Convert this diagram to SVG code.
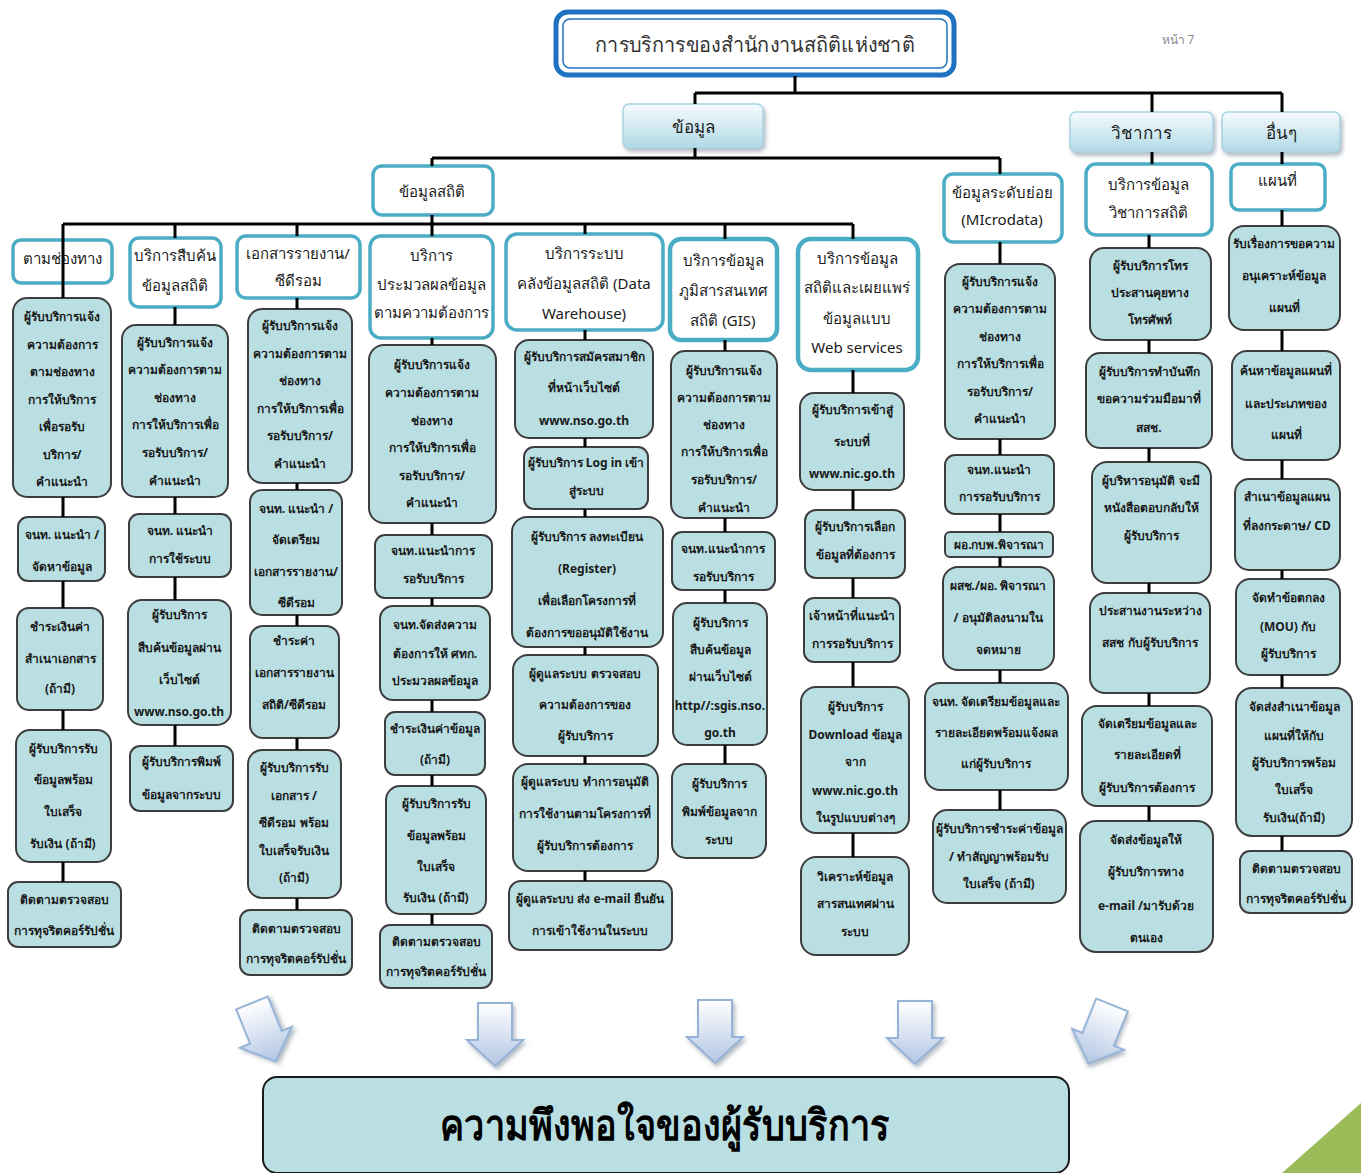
<svg xmlns="http://www.w3.org/2000/svg" width="1361" height="1173" viewBox="0 0 1361 1173">
<defs>
<linearGradient id="catg" x1="0" y1="0" x2="0" y2="1"><stop offset="0" stop-color="#f6fbfd"/><stop offset="1" stop-color="#b0d9e6"/></linearGradient>
<linearGradient id="arrg" x1="0" y1="0" x2="0" y2="1"><stop offset="0" stop-color="#ffffff"/><stop offset="1" stop-color="#b3c6e4"/></linearGradient>
<filter id="sh" x="-20%" y="-20%" width="140%" height="150%"><feDropShadow dx="2" dy="3" stdDeviation="2" flood-color="#7f8c99" flood-opacity="0.6"/></filter>
<g id="darr"><path d="M-17 0 H17 V37 H28 L0 63 L-28 37 H-17 Z"/></g>
</defs>
<style>
text{font-family:"Noto Sans","DejaVu Sans",sans-serif;text-anchor:middle;fill:#1a1a1a}
.title{font-size:21px;fill:#333}
.cat{font-size:17px;fill:#1a1a1a}
.t2{font-size:15px}
.tp{font-size:12px;font-weight:bold}
.l2{fill:#ffffff;stroke:#4bacc6;stroke-width:3.5}
.p{fill:#b9dfe3;stroke:#3d3d3d;stroke-width:2}
.c{fill:url(#catg);stroke:#a9d4e2;stroke-width:1.5;filter:url(#sh)}
.con path{stroke:#000;stroke-width:3;fill:none}
.arr use{fill:url(#arrg);stroke:#95b3d7;stroke-width:2;filter:url(#sh)}
</style>
<rect width="1361" height="1173" fill="#ffffff"/>

<g id="title">
<rect x="556" y="12" width="398" height="63" rx="12" fill="#ffffff" stroke="#1f72c0" stroke-width="5"/>
<rect x="563" y="19" width="384" height="49" rx="7" fill="none" stroke="#1f72c0" stroke-width="1.5"/>
<text class="title" x="755" y="52" textLength="320" lengthAdjust="spacingAndGlyphs">การบริการของสำนักงานสถิติแห่งชาติ</text>
</g>
<text x="1178" y="44" style="font-size:12px;fill:#8a8a8a">หน้า 7</text>

<g id="cat-data"><rect class="c" x="623" y="104" width="140" height="44" rx="6"/><text class="cat" x="693" y="133">ข้อมูล</text></g>
<g id="cat-academic"><rect class="c" x="1070" y="112" width="143" height="40" rx="6"/><text class="cat" x="1141" y="139">วิชาการ</text></g>
<g id="cat-other"><rect class="c" x="1222" y="112" width="118" height="40" rx="6"/><text class="cat" x="1281" y="139">อื่นๆ</text></g>

<g id="n-stat"><rect class="l2" x="373" y="166" width="120" height="49" rx="9"/><text class="t2" x="432" y="197">ข้อมูลสถิติ</text></g>
<g id="n-micro"><rect class="l2" x="944" y="174" width="118" height="68" rx="9"/><text class="t2" x="1002" y="198">ข้อมูลระดับย่อย</text><text class="t2" x="1002" y="225">(MIcrodata)</text></g>
<g id="n-acad"><rect class="l2" x="1086" y="164" width="126" height="71" rx="10"/><text class="t2" x="1148" y="190">บริการข้อมูล</text><text class="t2" x="1148" y="218">วิชาการสถิติ</text></g>
<g id="n-map"><rect class="l2" x="1231" y="164" width="94" height="46" rx="8"/><text class="t2" x="1277" y="186">แผนที่</text></g>

<g id="n-channel"><rect class="l2" x="13" y="240" width="99" height="43" rx="8"/><text class="t2" x="62" y="264">ตามช่องทาง</text></g>
<g id="n-search"><rect class="l2" x="130" y="238" width="91" height="69" rx="9"/><text class="t2" x="175" y="261">บริการสืบค้น</text><text class="t2" x="175" y="291">ข้อมูลสถิติ</text></g>
<g id="n-docs"><rect class="l2" x="237" y="236" width="123" height="62" rx="9"/><text class="t2" x="298" y="259">เอกสารรายงาน/</text><text class="t2" x="298" y="286">ซีดีรอม</text></g>
<g id="n-proc"><rect class="l2" x="370" y="236" width="123" height="102" rx="11"/><text class="t2" x="431" y="261">บริการ</text><text class="t2" x="431" y="290">ประมวลผลข้อมูล</text><text class="t2" x="431" y="318">ตามความต้องการ</text></g>
<g id="n-dw"><rect class="l2" x="506" y="234" width="157" height="96" rx="11"/><text class="t2" x="584" y="259">บริการระบบ</text><text class="t2" x="584" y="289">คลังข้อมูลสถิติ   (Data</text><text class="t2" x="584" y="319">Warehouse)</text></g>
<g id="n-gis"><rect class="l2" x="670" y="239" width="107" height="101" rx="11" style="stroke-width:4.5"/><text class="t2" x="723" y="266">บริการข้อมูล</text><text class="t2" x="723" y="296">ภูมิสารสนเทศ</text><text class="t2" x="723" y="326">สถิติ (GIS)</text></g>
<g id="n-web"><rect class="l2" x="798" y="239" width="120" height="131" rx="13" style="stroke-width:4.5"/><text class="t2" x="857" y="264">บริการข้อมูล</text><text class="t2" x="857" y="293">สถิติและเผยแพร่</text><text class="t2" x="857" y="324">ข้อมูลแบบ</text><text class="t2" x="857" y="353">Web services</text></g>

<!-- column 1 -->
<g id="c1a"><rect class="p" x="13" y="298" width="98" height="199" rx="14"/><text class="tp" x="62" y="321">ผู้รับบริการแจ้ง</text><text class="tp" x="62" y="349">ความต้องการ</text><text class="tp" x="62" y="376">ตามช่องทาง</text><text class="tp" x="62" y="404">การให้บริการ</text><text class="tp" x="62" y="431">เพื่อรอรับ</text><text class="tp" x="62" y="459">บริการ/</text><text class="tp" x="62" y="486">คำแนะนำ</text></g>
<g id="c1b"><rect class="p" x="18" y="517" width="87" height="64" rx="10"/><text class="tp" x="62" y="539">จนท. แนะนำ /</text><text class="tp" x="62" y="571">จัดหาข้อมูล</text></g>
<g id="c1c"><rect class="p" x="17" y="608" width="86" height="102" rx="12"/><text class="tp" x="60" y="631">ชำระเงินค่า</text><text class="tp" x="60" y="663">สำเนาเอกสาร</text><text class="tp" x="60" y="693">(ถ้ามี)</text></g>
<g id="c1d"><rect class="p" x="16" y="730" width="95" height="132" rx="14"/><text class="tp" x="63" y="753">ผู้รับบริการรับ</text><text class="tp" x="63" y="784">ข้อมูลพร้อม</text><text class="tp" x="63" y="816">ใบเสร็จ</text><text class="tp" x="63" y="848">รับเงิน (ถ้ามี)</text></g>
<g id="c1e"><rect class="p" x="8" y="882" width="113" height="65" rx="10"/><text class="tp" x="64" y="904">ติดตามตรวจสอบ</text><text class="tp" x="64" y="935">การทุจริตคอร์รัปชั่น</text></g>

<!-- column 2 -->
<g id="c2a"><rect class="p" x="122" y="325" width="106" height="172" rx="14"/><text class="tp" x="175" y="347">ผู้รับบริการแจ้ง</text><text class="tp" x="175" y="374">ความต้องการตาม</text><text class="tp" x="175" y="402">ช่องทาง</text><text class="tp" x="175" y="429">การให้บริการเพื่อ</text><text class="tp" x="175" y="457">รอรับบริการ/</text><text class="tp" x="175" y="485">คำแนะนำ</text></g>
<g id="c2b"><rect class="p" x="129" y="514" width="102" height="63" rx="10"/><text class="tp" x="180" y="535">จนท. แนะนำ</text><text class="tp" x="180" y="563">การใช้ระบบ</text></g>
<g id="c2c"><rect class="p" x="128" y="600" width="103" height="125" rx="14"/><text class="tp" x="179" y="619">ผู้รับบริการ</text><text class="tp" x="179" y="652">สืบค้นข้อมูลผ่าน</text><text class="tp" x="179" y="684">เว็บไซต์</text><text class="tp" x="179" y="716">www.nso.go.th</text></g>
<g id="c2d"><rect class="p" x="130" y="746" width="103" height="65" rx="10"/><text class="tp" x="181" y="766">ผู้รับบริการพิมพ์</text><text class="tp" x="181" y="799">ข้อมูลจากระบบ</text></g>

<!-- column 3 -->
<g id="c3a"><rect class="p" x="248" y="309" width="104" height="174" rx="14"/><text class="tp" x="300" y="330">ผู้รับบริการแจ้ง</text><text class="tp" x="300" y="358">ความต้องการตาม</text><text class="tp" x="300" y="385">ช่องทาง</text><text class="tp" x="300" y="413">การให้บริการเพื่อ</text><text class="tp" x="300" y="440">รอรับบริการ/</text><text class="tp" x="300" y="468">คำแนะนำ</text></g>
<g id="c3b"><rect class="p" x="250" y="490" width="92" height="125" rx="12"/><text class="tp" x="296" y="513">จนท. แนะนำ /</text><text class="tp" x="296" y="544">จัดเตรียม</text><text class="tp" x="296" y="576">เอกสารรายงาน/</text><text class="tp" x="296" y="607">ซีดีรอม</text></g>
<g id="c3c"><rect class="p" x="250" y="626" width="89" height="112" rx="13"/><text class="tp" x="294" y="645">ชำระค่า</text><text class="tp" x="294" y="677">เอกสารรายงาน</text><text class="tp" x="294" y="709">สถิติ/ซีดีรอม</text></g>
<g id="c3d"><rect class="p" x="248" y="750" width="93" height="148" rx="14"/><text class="tp" x="294" y="772">ผู้รับบริการรับ</text><text class="tp" x="294" y="800">เอกสาร /</text><text class="tp" x="294" y="827">ซีดีรอม พร้อม</text><text class="tp" x="294" y="855">ใบเสร็จรับเงิน</text><text class="tp" x="294" y="882">(ถ้ามี)</text></g>
<g id="c3e"><rect class="p" x="240" y="910" width="112" height="65" rx="10"/><text class="tp" x="296" y="933">ติดตามตรวจสอบ</text><text class="tp" x="296" y="963">การทุจริตคอร์รัปชั่น</text></g>

<!-- column 4 -->
<g id="c4a"><rect class="p" x="369" y="345" width="127" height="178" rx="15"/><text class="tp" x="432" y="369">ผู้รับบริการแจ้ง</text><text class="tp" x="432" y="397">ความต้องการตาม</text><text class="tp" x="432" y="425">ช่องทาง</text><text class="tp" x="432" y="452">การให้บริการเพื่อ</text><text class="tp" x="432" y="480">รอรับบริการ/</text><text class="tp" x="432" y="507">คำแนะนำ</text></g>
<g id="c4b"><rect class="p" x="375" y="535" width="117" height="63" rx="10"/><text class="tp" x="433" y="555">จนท.แนะนำการ</text><text class="tp" x="433" y="583">รอรับบริการ</text></g>
<g id="c4c"><rect class="p" x="380" y="606" width="110" height="94" rx="13"/><text class="tp" x="435" y="629">จนท.จัดส่งความ</text><text class="tp" x="435" y="658">ต้องการให้ ศทก.</text><text class="tp" x="435" y="685">ประมวลผลข้อมูล</text></g>
<g id="c4d"><rect class="p" x="385" y="712" width="100" height="63" rx="10"/><text class="tp" x="435" y="733">ชำระเงินค่าข้อมูล</text><text class="tp" x="435" y="764">(ถ้ามี)</text></g>
<g id="c4e"><rect class="p" x="386" y="786" width="100" height="128" rx="14"/><text class="tp" x="436" y="808">ผู้รับบริการรับ</text><text class="tp" x="436" y="840">ข้อมูลพร้อม</text><text class="tp" x="436" y="871">ใบเสร็จ</text><text class="tp" x="436" y="902">รับเงิน (ถ้ามี)</text></g>
<g id="c4f"><rect class="p" x="380" y="925" width="112" height="63" rx="10"/><text class="tp" x="436" y="946">ติดตามตรวจสอบ</text><text class="tp" x="436" y="976">การทุจริตคอร์รัปชั่น</text></g>

<!-- column 5 -->
<g id="c5a"><rect class="p" x="515" y="340" width="138" height="98" rx="14"/><text class="tp" x="584" y="361">ผู้รับบริการสมัครสมาชิก</text><text class="tp" x="584" y="392">ที่หน้าเว็บไซต์</text><text class="tp" x="584" y="425">www.nso.go.th</text></g>
<g id="c5b"><rect class="p" x="524" y="447" width="124" height="62" rx="10"/><text class="tp" x="586" y="467">ผู้รับบริการ Log in เข้า</text><text class="tp" x="586" y="495">สู่ระบบ</text></g>
<g id="c5c"><rect class="p" x="512" y="517" width="151" height="130" rx="15"/><text class="tp" x="587" y="541">ผู้รับบริการ ลงทะเบียน</text><text class="tp" x="587" y="573">(Register)</text><text class="tp" x="587" y="605">เพื่อเลือกโครงการที่</text><text class="tp" x="587" y="637">ต้องการขออนุมัติใช้งาน</text></g>
<g id="c5d"><rect class="p" x="513" y="655" width="145" height="101" rx="15"/><text class="tp" x="585" y="678">ผู้ดูแลระบบ ตรวจสอบ</text><text class="tp" x="585" y="709">ความต้องการของ</text><text class="tp" x="585" y="740">ผู้รับบริการ</text></g>
<g id="c5e"><rect class="p" x="513" y="764" width="145" height="107" rx="15"/><text class="tp" x="585" y="786">ผู้ดูแลระบบ ทำการอนุมัติ</text><text class="tp" x="585" y="818">การใช้งานตามโครงการที่</text><text class="tp" x="585" y="850">ผู้รับบริการต้องการ</text></g>
<g id="c5f"><rect class="p" x="509" y="881" width="163" height="69" rx="12"/><text class="tp" x="590" y="903">ผู้ดูแลระบบ ส่ง e-mail ยืนยัน</text><text class="tp" x="590" y="935">การเข้าใช้งานในระบบ</text></g>

<!-- column 6 -->
<g id="c6a"><rect class="p" x="671" y="351" width="106" height="167" rx="14"/><text class="tp" x="724" y="375">ผู้รับบริการแจ้ง</text><text class="tp" x="724" y="402">ความต้องการตาม</text><text class="tp" x="724" y="429">ช่องทาง</text><text class="tp" x="724" y="456">การให้บริการเพื่อ</text><text class="tp" x="724" y="484">รอรับบริการ/</text><text class="tp" x="724" y="512">คำแนะนำ</text></g>
<g id="c6b"><rect class="p" x="672" y="532" width="103" height="58" rx="10"/><text class="tp" x="723" y="553">จนท.แนะนำการ</text><text class="tp" x="723" y="581">รอรับบริการ</text></g>
<g id="c6c"><rect class="p" x="673" y="603" width="94" height="142" rx="14"/><text class="tp" x="720" y="627">ผู้รับบริการ</text><text class="tp" x="720" y="654">สืบค้นข้อมูล</text><text class="tp" x="720" y="681">ผ่านเว็บไซต์</text><text class="tp" x="720" y="710">http//:sgis.nso.</text><text class="tp" x="720" y="737">go.th</text></g>
<g id="c6d"><rect class="p" x="672" y="764" width="94" height="94" rx="14"/><text class="tp" x="719" y="788">ผู้รับบริการ</text><text class="tp" x="719" y="816">พิมพ์ข้อมูลจาก</text><text class="tp" x="719" y="844">ระบบ</text></g>

<!-- column 7 -->
<g id="c7a"><rect class="p" x="800" y="393" width="104" height="97" rx="14"/><text class="tp" x="852" y="414">ผู้รับบริการเข้าสู่</text><text class="tp" x="852" y="446">ระบบที่</text><text class="tp" x="852" y="478">www.nic.go.th</text></g>
<g id="c7b"><rect class="p" x="805" y="510" width="100" height="68" rx="11"/><text class="tp" x="855" y="531">ผู้รับบริการเลือก</text><text class="tp" x="855" y="559">ข้อมูลที่ต้องการ</text></g>
<g id="c7c"><rect class="p" x="804" y="598" width="96" height="64" rx="10"/><text class="tp" x="852" y="620">เจ้าหน้าที่แนะนำ</text><text class="tp" x="852" y="648">การรอรับบริการ</text></g>
<g id="c7d"><rect class="p" x="801" y="687" width="108" height="146" rx="15"/><text class="tp" x="855" y="711">ผู้รับบริการ</text><text class="tp" x="855" y="739">Download ข้อมูล</text><text class="tp" x="855" y="766">จาก</text><text class="tp" x="855" y="795">www.nic.go.th</text><text class="tp" x="855" y="822">ในรูปแบบต่างๆ</text></g>
<g id="c7e"><rect class="p" x="801" y="857" width="108" height="98" rx="15"/><text class="tp" x="855" y="881">วิเคราะห์ข้อมูล</text><text class="tp" x="855" y="908">สารสนเทศผ่าน</text><text class="tp" x="855" y="936">ระบบ</text></g>

<!-- column 8 -->
<g id="c8a"><rect class="p" x="945" y="264" width="110" height="175" rx="15"/><text class="tp" x="1000" y="286">ผู้รับบริการแจ้ง</text><text class="tp" x="1000" y="313">ความต้องการตาม</text><text class="tp" x="1000" y="341">ช่องทาง</text><text class="tp" x="1000" y="368">การให้บริการเพื่อ</text><text class="tp" x="1000" y="396">รอรับบริการ/</text><text class="tp" x="1000" y="423">คำแนะนำ</text></g>
<g id="c8b"><rect class="p" x="945" y="455" width="109" height="59" rx="10"/><text class="tp" x="999" y="474">จนท.แนะนำ</text><text class="tp" x="999" y="501">การรอรับบริการ</text></g>
<g id="c8c"><rect class="p" x="945" y="532" width="108" height="25" rx="5"/><text class="tp" x="999" y="549">ผอ.กบพ.พิจารณา</text></g>
<g id="c8d"><rect class="p" x="943" y="567" width="111" height="103" rx="15"/><text class="tp" x="998" y="590">ผสช./ผอ. พิจารณา</text><text class="tp" x="998" y="622">/ อนุมัติลงนามใน</text><text class="tp" x="998" y="654">จดหมาย</text></g>
<g id="c8e"><rect class="p" x="925" y="683" width="143" height="107" rx="15"/><text class="tp" x="996" y="706">จนท. จัดเตรียมข้อมูลและ</text><text class="tp" x="996" y="737">รายละเอียดพร้อมแจ้งผล</text><text class="tp" x="996" y="768">แก่ผู้รับบริการ</text></g>
<g id="c8f"><rect class="p" x="933" y="810" width="133" height="93" rx="14"/><text class="tp" x="999" y="833">ผู้รับบริการชำระค่าข้อมูล</text><text class="tp" x="999" y="861">/ ทำสัญญาพร้อมรับ</text><text class="tp" x="999" y="888">ใบเสร็จ   (ถ้ามี)</text></g>

<!-- column 9 -->
<g id="c9a"><rect class="p" x="1090" y="248" width="121" height="92" rx="14"/><text class="tp" x="1150" y="270">ผู้รับบริการโทร</text><text class="tp" x="1150" y="297">ประสานคุยทาง</text><text class="tp" x="1150" y="324">โทรศัพท์</text></g>
<g id="c9b"><rect class="p" x="1086" y="353" width="126" height="95" rx="14"/><text class="tp" x="1149" y="376">ผู้รับบริการทำบันทึก</text><text class="tp" x="1149" y="403">ขอความร่วมมือมาที่</text><text class="tp" x="1149" y="432">สสช.</text></g>
<g id="c9c"><rect class="p" x="1092" y="462" width="119" height="121" rx="15"/><text class="tp" x="1151" y="485">ผู้บริหารอนุมัติ จะมี</text><text class="tp" x="1151" y="512">หนังสือตอบกลับให้</text><text class="tp" x="1151" y="540">ผู้รับบริการ</text></g>
<g id="c9d"><rect class="p" x="1090" y="593" width="120" height="100" rx="15"/><text class="tp" x="1150" y="615">ประสานงานระหว่าง</text><text class="tp" x="1150" y="647">สสช กับผู้รับบริการ</text></g>
<g id="c9e"><rect class="p" x="1082" y="706" width="130" height="100" rx="15"/><text class="tp" x="1147" y="728">จัดเตรียมข้อมูลและ</text><text class="tp" x="1147" y="759">รายละเอียดที่</text><text class="tp" x="1147" y="792">ผู้รับบริการต้องการ</text></g>
<g id="c9f"><rect class="p" x="1080" y="821" width="133" height="131" rx="16"/><text class="tp" x="1146" y="844">จัดส่งข้อมูลให้</text><text class="tp" x="1146" y="876">ผู้รับบริการทาง</text><text class="tp" x="1146" y="910">e-mail /มารับด้วย</text><text class="tp" x="1146" y="942">ตนเอง</text></g>

<!-- column 10 -->
<g id="c10a"><rect class="p" x="1229" y="226" width="111" height="104" rx="15"/><text class="tp" x="1284" y="248">รับเรื่องการขอความ</text><text class="tp" x="1284" y="280">อนุเคราะห์ข้อมูล</text><text class="tp" x="1284" y="312">แผนที่</text></g>
<g id="c10b"><rect class="p" x="1232" y="351" width="108" height="109" rx="15"/><text class="tp" x="1286" y="375">ค้นหาข้อมูลแผนที่</text><text class="tp" x="1286" y="408">และประเภทของ</text><text class="tp" x="1286" y="439">แผนที่</text></g>
<g id="c10c"><rect class="p" x="1235" y="479" width="105" height="91" rx="14"/><text class="tp" x="1287" y="501">สำเนาข้อมูลแผน</text><text class="tp" x="1287" y="530">ที่ลงกระดาษ/ CD</text></g>
<g id="c10d"><rect class="p" x="1236" y="579" width="104" height="96" rx="14"/><text class="tp" x="1288" y="602">จัดทำข้อตกลง</text><text class="tp" x="1288" y="631">(MOU) กับ</text><text class="tp" x="1288" y="658">ผู้รับบริการ</text></g>
<g id="c10e"><rect class="p" x="1236" y="688" width="116" height="148" rx="16"/><text class="tp" x="1294" y="711">จัดส่งสำเนาข้อมูล</text><text class="tp" x="1294" y="740">แผนที่ให้กับ</text><text class="tp" x="1294" y="767">ผู้รับบริการพร้อม</text><text class="tp" x="1294" y="794">ใบเสร็จ</text><text class="tp" x="1294" y="822">รับเงิน(ถ้ามี)</text></g>
<g id="c10f"><rect class="p" x="1240" y="851" width="112" height="62" rx="10"/><text class="tp" x="1296" y="873">ติดตามตรวจสอบ</text><text class="tp" x="1296" y="903">การทุจริตคอร์รัปชั่น</text></g>

<g id="connectors" class="con">
<path d="M795 76 V93 M695 93 H1282 M695 93 V104 M1152 93 V112 M1282 93 V112"/>
<path d="M695 148 V158 M432 158 H1000 M432 158 V166 M1000 158 V174 M1152 152 V164 M1282 152 V164"/>
<path d="M432 215 V224 M63 224 H853 M175 224 V238 M297 224 V236 M432 224 V236 M585 224 V234 M725 224 V239 M853 224 V239"/>
<path d="M63 224 V298 M63 497 V517 M63 581 V608 M63 710 V730 M63 862 V882"/>
<path d="M175 307 V325 M175 497 V514 M175 577 V600 M175 725 V746"/>
<path d="M297 298 V309 M297 483 V490 M297 615 V626 M297 738 V750 M297 898 V910"/>
<path d="M432 338 V345 M432 523 V535 M432 598 V606 M432 700 V712 M432 775 V786 M432 914 V925"/>
<path d="M585 330 V340 M585 438 V447 M585 509 V517 M585 647 V655 M585 756 V764 M585 871 V881"/>
<path d="M725 340 V351 M725 518 V532 M725 590 V603 M725 745 V764"/>
<path d="M853 370 V393 M853 490 V510 M853 578 V598 M853 662 V687 M853 833 V857"/>
<path d="M1000 242 V264 M1000 439 V455 M1000 514 V532 M1000 557 V567 M1000 670 V683 M1000 790 V810"/>
<path d="M1149 235 V248 M1149 340 V353 M1149 448 V462 M1149 583 V593 M1149 693 V706 M1149 806 V821"/>
<path d="M1282 210 V226 M1282 330 V351 M1282 460 V479 M1282 570 V579 M1282 675 V688 M1282 836 V851"/>
</g>

<g id="arrows" class="arr">
<use href="#darr" transform="translate(252 1003) rotate(-22)"/>
<use href="#darr" transform="translate(495 1003)"/>
<use href="#darr" transform="translate(715 1000)"/>
<use href="#darr" transform="translate(915 1001)"/>
<use href="#darr" transform="translate(1112 1005) rotate(22)"/>
</g>

<g id="satisfaction">
<rect x="263" y="1077" width="806" height="96" rx="14" fill="#b9dfe3" stroke="#1a1a1a" stroke-width="2"/>
<text x="665" y="1140" textLength="450" lengthAdjust="spacingAndGlyphs" style="font-size:42px;font-weight:bold;fill:#000">ความพึงพอใจของผู้รับบริการ</text>
</g>
<polygon points="1361,1103 1361,1173 1282,1173" fill="#9bbb59"/>
</svg>
